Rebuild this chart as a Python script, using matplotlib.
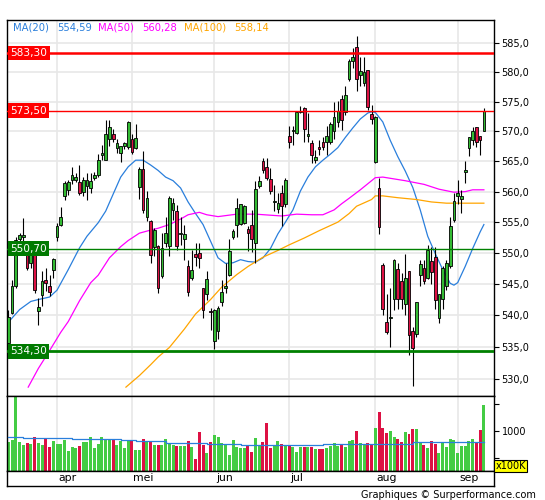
import matplotlib
matplotlib.use("Agg")
import matplotlib.pyplot as plt
from matplotlib.ticker import FixedLocator, FixedFormatter, NullLocator
import matplotlib.transforms as mtransforms

# ==========================================
# DATA
# ==========================================

opens = [
    535.6, 540.4, 544.6, 552.3, 552.6, 550.2, 548.4, 550.2, 540.6, 543.3,
    545.7, 544.6, 547.3, 552.6, 554.6, 559.2, 560.3, 561.9, 562.0, 561.6,
    559.9, 560.9, 560.6, 562.3, 562.7, 566.0, 565.3, 568.8, 569.6, 567.3,
    566.4, 567.6, 567.4, 568.8, 567.3, 560.8, 563.7, 555.9, 555.2, 551.0,
    551.1, 546.2, 551.6, 551.1, 556.9, 556.8, 553.0, 552.3, 547.9, 546.0,
    549.8, 550.0, 544.3, 543.4, 540.7, 536.0, 537.5, 542.1, 544.3, 546.5,
    552.5, 554.6, 554.7, 554.9, 553.8, 554.5, 551.6, 560.9, 565.0, 564.0,
    562.1, 558.3, 557.1, 559.7, 558.0, 569.3, 570.0, 569.8, 573.2, 573.9,
    569.3, 568.1, 565.3, 567.4, 568.2, 568.2, 568.2, 570.0, 571.6, 575.4,
    573.3, 578.9, 582.0, 584.4, 579.6, 578.1, 580.4, 573.0, 564.9, 560.6,
    548.0, 538.9, 539.5, 542.6, 547.4, 545.5, 541.8, 547.0, 537.5, 537.0,
    546.5, 547.5, 546.0, 548.7, 549.3, 539.6, 542.6, 544.6, 547.8, 555.3,
    559.2, 558.8, 563.2, 567.3, 568.6, 570.8, 569.3, 570.1
]

highs = [
    540.9, 545.7, 552.6, 553.3, 555.7, 551.5, 551.8, 552.0, 542.8, 547.0,
    547.6, 546.5, 549.2, 554.8, 557.5, 561.8, 562.0, 564.0, 563.0, 564.4,
    562.4, 563.0, 563.0, 563.3, 566.2, 567.8, 572.0, 571.9, 570.4, 568.8,
    567.6, 568.3, 571.7, 569.5, 571.3, 564.1, 566.7, 560.1, 555.3, 554.0,
    551.3, 553.2, 555.9, 559.2, 558.9, 557.8, 555.9, 554.6, 548.9, 550.5,
    551.6, 551.6, 544.4, 547.0, 541.2, 541.0, 541.5, 545.7, 548.4, 552.3,
    553.9, 559.0, 558.0, 557.8, 554.3, 557.0, 561.7, 562.5, 565.6, 565.6,
    563.9, 561.1, 559.7, 561.1, 562.2, 571.0, 571.0, 573.4, 574.3, 574.2,
    573.1, 568.5, 566.9, 568.5, 569.0, 571.0, 571.6, 575.0, 575.2, 576.1,
    577.7, 582.3, 584.1, 586.3, 582.6, 582.6, 580.4, 574.4, 572.6, 562.3,
    548.4, 543.4, 544.3, 549.0, 548.4, 546.8, 549.8, 547.0, 538.1, 542.1,
    548.9, 548.9, 551.2, 551.0, 551.0, 543.4, 547.8, 548.9, 555.9, 559.7,
    562.0, 560.3, 565.0, 569.1, 570.8, 570.8, 569.3, 573.9
]

lows = [
    535.3, 540.2, 544.3, 551.8, 551.9, 547.2, 547.5, 543.5, 538.5, 541.4,
    543.8, 543.0, 546.0, 552.0, 554.3, 558.7, 559.5, 561.2, 561.6, 559.5,
    559.2, 558.7, 559.8, 562.0, 562.4, 565.2, 565.2, 567.6, 568.3, 566.4,
    564.9, 567.1, 567.1, 566.2, 567.1, 558.8, 556.5, 555.1, 548.4, 549.5,
    543.5, 546.0, 551.0, 549.5, 555.4, 550.5, 551.3, 548.9, 543.1, 545.7,
    547.9, 547.6, 539.6, 542.5, 537.6, 534.6, 536.2, 541.5, 543.6, 546.3,
    552.2, 552.6, 554.5, 554.7, 550.3, 550.2, 548.4, 560.6, 563.1, 561.9,
    559.6, 556.8, 556.5, 554.3, 557.5, 567.3, 567.7, 569.6, 573.1, 568.2,
    568.2, 564.7, 564.7, 566.0, 566.9, 566.0, 567.9, 568.8, 570.7, 570.2,
    572.8, 578.6, 580.8, 576.9, 577.6, 577.6, 573.6, 571.3, 564.8, 553.0,
    540.0, 537.0, 535.0, 540.9, 541.0, 541.0, 540.0, 533.7, 528.9, 536.5,
    544.6, 545.0, 545.8, 545.0, 541.0, 538.7, 541.0, 544.0, 547.6, 555.0,
    558.0, 556.5, 561.5, 565.9, 567.7, 567.4, 566.0, 570.0
]

closes = [
    539.8, 544.6, 552.1, 552.9, 552.9, 547.6, 549.8, 544.1, 541.3, 545.4,
    545.1, 543.7, 549.0, 554.3, 555.9, 561.4, 561.6, 562.7, 562.4, 559.8,
    561.9, 561.9, 561.8, 562.7, 565.2, 566.4, 569.6, 570.8, 568.7, 568.1,
    567.5, 568.0, 571.6, 566.6, 568.9, 563.8, 557.0, 559.0, 549.7, 553.7,
    544.3, 550.8, 553.2, 559.0, 558.1, 551.1, 553.3, 553.1, 543.7, 547.3,
    549.3, 549.2, 540.9, 545.8, 540.5, 540.9, 541.2, 543.7, 544.6, 550.3,
    553.5, 557.3, 557.9, 557.6, 553.3, 552.3, 560.4, 561.7, 563.6, 562.3,
    560.1, 558.5, 558.2, 557.6, 561.9, 568.2, 570.3, 573.2, 573.5, 570.4,
    569.6, 566.1, 565.7, 567.0, 567.4, 569.3, 571.2, 572.4, 573.4, 571.9,
    576.1, 582.0, 582.6, 578.9, 580.3, 580.1, 574.1, 572.1, 572.5, 554.2,
    541.0, 537.3, 539.8, 548.9, 542.6, 542.6, 546.0, 536.8, 534.9, 542.1,
    548.2, 545.5, 550.5, 546.9, 542.4, 543.4, 547.6, 548.3, 554.4, 558.4,
    559.7, 559.2, 563.6, 569.1, 570.0, 568.2, 568.6, 573.4
]

# volume in units of 100K
volumes = [
    797, 841, 1750, 797, 746, 779, 766, 892, 785, 746,
    861, 703, 817, 766, 766, 830, 639, 703, 684, 721,
    797, 797, 892, 684, 759, 892, 841, 841, 830, 746,
    810, 684, 823, 810, 659, 659, 848, 797, 797, 746,
    753, 746, 848, 779, 746, 734, 734, 734, 810, 703,
    482, 987, 753, 608, 797, 925, 892, 785, 753, 556,
    830, 703, 697, 684, 746, 626, 874, 753, 797, 1140,
    690, 746, 810, 766, 746, 746, 716, 620, 703, 703,
    703, 703, 671, 671, 671, 684, 734, 779, 721, 753,
    716, 810, 841, 1000, 779, 766, 779, 766, 1051, 1349,
    1064, 956, 1000, 892, 848, 797, 987, 938, 1045, 1045,
    785, 746, 684, 817, 766, 608, 785, 703, 848, 830,
    608, 734, 734, 810, 848, 797, 1020, 1482
]

# moving averages
ma20_idx = [0, 3, 6, 8, 11, 13, 14, 16, 19, 21, 24, 26, 28, 30, 32, 34, 36,
            38, 40, 42, 44, 46, 48, 50, 52, 54, 56, 58, 60, 62, 64, 66, 68,
            70, 72, 74, 76, 78, 80, 82, 84, 86, 88, 90, 92, 94, 96, 97, 98,
            100, 102, 104, 106, 108, 110, 112, 114, 116, 118, 119, 120, 122,
            124, 126, 127]
ma20 = [538.9, 540.9, 542.2, 542.5, 542.9, 544.0, 545.1, 547.3, 550.8, 552.7,
        554.9, 556.8, 559.6, 562.4, 564.1, 565.2, 565.2, 564.4, 563.5, 562.4,
        561.8, 560.6, 558.3, 556.4, 554.6, 551.9, 549.2, 548.3, 548.4, 548.9,
        548.6, 548.5, 549.2, 550.7, 553.1, 555.0, 557.0, 560.1, 562.4, 564.1,
        565.2, 566.2, 567.3, 569.0, 570.6, 572.1, 573.1, 573.3, 573.2, 571.6,
        568.5, 565.8, 563.4, 560.7, 557.0, 552.7, 549.9, 547.3, 545.1, 544.8,
        545.2, 547.8, 550.7, 553.4, 554.6]

ma50_idx = [5.3, 8, 11, 14, 16, 19, 22, 24, 27, 30, 32, 35, 38, 40, 43, 46,
            48, 51, 53, 56, 61, 66, 73, 77, 81, 84, 87, 89, 91, 94, 97, 98,
            100, 103, 106, 111, 115, 119, 122, 124, 127]
ma50 = [528.7, 531.6, 534.4, 537.3, 539.0, 542.3, 545.2, 546.4, 549.2, 551.0,
        552.0, 553.2, 553.7, 554.0, 554.6, 555.5, 556.2, 556.6, 556.2, 555.9,
        556.3, 556.3, 556.0, 556.3, 556.2, 556.2, 557.0, 558.0, 558.9, 560.3,
        561.8, 562.3, 562.4, 562.1, 561.8, 561.2, 560.4, 559.9, 560.0, 560.3,
        560.3]

ma100_idx = [31.4, 35, 38, 40, 43, 47, 50, 54, 57, 61, 64, 68, 72, 75, 79,
             83, 88, 91, 93, 97, 98, 100, 104, 109, 113, 117, 121, 127]
ma100 = [528.7, 530.5, 532.2, 533.4, 534.9, 537.8, 540.2, 542.5, 544.5, 546.5,
         547.8, 549.3, 550.4, 551.3, 552.4, 553.6, 555.0, 556.4, 557.6, 558.7,
         559.3, 559.3, 559.0, 558.7, 558.3, 558.1, 558.1, 558.1]

vol_ma_idx = [0, 4, 17, 30, 34, 42, 53, 62, 84, 101, 108, 127]
vol_ma = [892, 867, 848, 830, 810, 791, 772, 753, 755, 772, 797, 797]

legend_items = [
    ("MA(20)", "554,59", "#2a7fdc"),
    ("MA(50)", "560,28", "#ff00ff"),
    ("MA(100)", "558,14", "#ffa500"),
]

level_values = [583.30, 573.50, 550.70, 534.30]
level_labels = ["583,30", "573,50", "550,70", "534,30"]

month_labels = ["apr", "mei", "jun", "jul", "aug", "sep"]
month_starts = [13, 33, 55, 75, 98, 120]

price_ticks = [530, 535, 540, 545, 550, 555, 560, 565, 570, 575, 580, 585]

# ==========================================
# STYLE
# ==========================================

GREEN = "#33bb33"
RED = "#dd1144"
VGREEN = "#44cc44"
VRED = "#dd1144"
GRID = "#e8e8e8"

plt.rcParams["font.family"] = ["DejaVu Sans"]

W, H = 545, 500
fig = plt.figure(figsize=(W / 100, H / 100), dpi=100)

left = 7.3 / W
width = (494 - 7.3) / W

ax = fig.add_axes([left, 1 - 395.5 / H, width, (395.5 - 20) / H])
axv = fig.add_axes([left, 1 - 470.5 / H, width, 75 / H])
axb = fig.add_axes([left, 1 - 485.5 / H, width, 15 / H])

n = len(closes)
x = list(range(n))
xlim = (-0.28, 129.7)

colors = [GREEN if c >= o else RED for o, c in zip(opens, closes)]
vcolors = [VGREEN if c >= o else VRED for o, c in zip(opens, closes)]

# ==========================================
# PRICE PANEL
# ==========================================

ax.set_yscale("log")
ax.set_xlim(*xlim)
ax.set_ylim(527.4, 589.0)

for v in price_ticks:
    ax.axhline(v, color=GRID, lw=1.2, zorder=0)
for m in month_starts:
    ax.axvline(m, color=GRID, lw=1.2, zorder=0)

ma_clip = 528.6
ax.plot(ma20_idx, ma20, color="#2a7fdc", lw=0.9, zorder=2)
ax.plot(ma50_idx, ma50, color="#ff00ff", lw=0.9, zorder=2)
ax.plot(ma100_idx, ma100, color="#ffa500", lw=0.9, zorder=2)

ax.vlines(x, lows, highs, color="black", lw=0.8, zorder=3)

bodies = [max(abs(c - o), 0.12) for o, c in zip(opens, closes)]
bottoms = [min(o, c) for o, c in zip(opens, closes)]
ax.bar(x, bodies, bottom=bottoms, width=0.72, color=colors,
       edgecolor="black", linewidth=0.6, zorder=4)

level_colors = ["#ff0000", "#ff0000", "#008000", "#008000"]
level_widths = [1.8, 1.0, 1.0, 2.0]
box_colors = ["#ff0000", "#ff0000", "#007a00", "#007a00"]
trans = mtransforms.blended_transform_factory(ax.transAxes, ax.transData)
for v, lab, lc, lw, bc in zip(level_values, level_labels, level_colors,
                              level_widths, box_colors):
    ax.axhline(v, color=lc, lw=lw, zorder=5)
    ax.text(0.006, v, lab, transform=trans, ha="left", va="center",
            fontsize=7.6, color="white", zorder=6,
            bbox=dict(boxstyle="square,pad=0.22", fc=bc, ec="none"))

leg_x = [12.8, 57.3, 98.3, 142.4, 184.0, 234.4]
k = 0
for name, val, col in legend_items:
    for t in (name, val):
        ax.text((leg_x[k] - 7.3) / (494 - 7.3), 1 - (27.8 - 20) / 375.5, t,
                transform=ax.transAxes, ha="left", va="center",
                fontsize=7.2, color=col, zorder=6)
        k += 1

ax.yaxis.tick_right()
ax.yaxis.set_major_locator(FixedLocator(price_ticks))
ax.yaxis.set_major_formatter(FixedFormatter(
    [f"{v:.1f}".replace(".", ",") for v in price_ticks]))
ax.yaxis.set_minor_locator(NullLocator())
ax.tick_params(axis="y", which="major", direction="out", length=3.5,
               width=0.8, pad=2, labelsize=7)
ax.set_xticks([])
for s in ax.spines.values():
    s.set_linewidth(1.0)

# ==========================================
# VOLUME PANEL
# ==========================================

axv.set_xlim(*xlim)
axv.set_ylim(280, 1650)
for m in month_starts:
    axv.axvline(m, color=GRID, lw=1.2, zorder=0)
axv.bar(x, volumes, width=0.8, color=vcolors, linewidth=0, zorder=2)
axv.plot(vol_ma_idx, vol_ma, color="#2a7fdc", lw=0.9, drawstyle="steps-post",
         zorder=3)

axv.yaxis.tick_right()
axv.set_yticks([500, 1000, 1500])
axv.set_yticklabels(["", "1000", ""])
axv.tick_params(axis="y", direction="out", length=3.5, width=0.8, pad=2,
                labelsize=7)
axv.set_xticks([])
for s in axv.spines.values():
    s.set_linewidth(1.0)

# ==========================================
# MONTH BAND
# ==========================================

axb.set_xlim(*xlim)
axb.set_ylim(0, 1)
axb.set_xticks([])
axb.set_yticks([])
for m, lab in zip(month_starts, month_labels):
    axb.text(m + 0.4, 0.5, lab, ha="left", va="center", fontsize=7.8)
for s in axb.spines.values():
    s.set_linewidth(1.0)

fig.text((494 + 527) / 2 / W, 1 - 466 / H, "x100K", ha="center",
         va="center", fontsize=7,
         bbox=dict(boxstyle="square,pad=0.15", fc="#ffff00", ec="black",
                   lw=0.8))

fig.text(536 / W, 1 - 495 / H, "Graphiques \u00a9 Surperformance.com",
         ha="right", va="center", fontsize=7)

fig.savefig("out.png", dpi=100)
